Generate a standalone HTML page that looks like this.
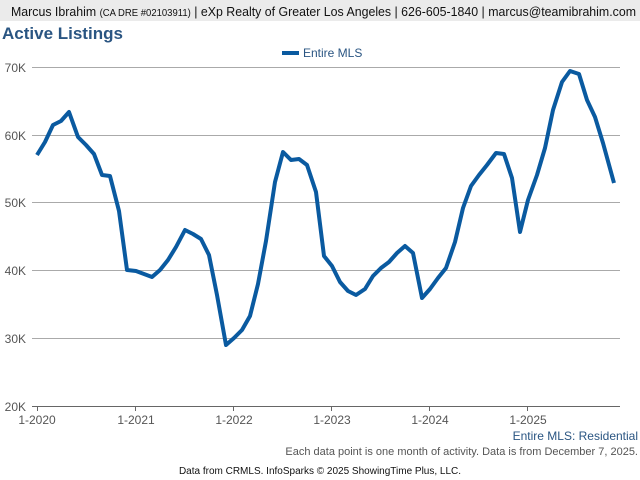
<!DOCTYPE html>
<html><head><style>
body{margin:0;width:640px;height:480px;background:#fff;font-family:"Liberation Sans",sans-serif;position:relative;overflow:hidden}
.hdr{position:absolute;left:0;top:0;width:640px;height:21px;background:#ebebeb}
.title{position:absolute;left:2px;top:24px;font-size:17px;font-weight:bold;color:#2a5582}
</style></head><body>
<div class="hdr"></div>
<div class="title">Active Listings</div>
<svg width="640" height="480" style="position:absolute;left:0;top:0" font-family="Liberation Sans, sans-serif">
<text x="11" y="16" font-size="13" fill="#111" textLength="625" lengthAdjust="spacingAndGlyphs">Marcus Ibrahim <tspan font-size="10">(CA DRE #02103911)</tspan> | eXp Realty of Greater Los Angeles | 626-605-1840 | marcus@teamibrahim.com</text>
<g stroke="#aaa" stroke-width="1">
<line x1="32" y1="67.5" x2="620" y2="67.5"/><line x1="32" y1="135.5" x2="620" y2="135.5"/>
<line x1="32" y1="202.5" x2="620" y2="202.5"/><line x1="32" y1="270.5" x2="620" y2="270.5"/>
<line x1="32" y1="338.5" x2="620" y2="338.5"/><line x1="32" y1="406.5" x2="620" y2="406.5" stroke="#666"/>
</g>
<g stroke="#666"><line x1="37.5" y1="406" x2="37.5" y2="411"/><line x1="135.5" y1="406" x2="135.5" y2="411"/><line x1="233.5" y1="406" x2="233.5" y2="411"/><line x1="331.5" y1="406" x2="331.5" y2="411"/><line x1="429.5" y1="406" x2="429.5" y2="411"/><line x1="527.5" y1="406" x2="527.5" y2="411"/></g>
<g font-size="12" fill="#555" text-anchor="end">
<text x="26" y="72">70K</text><text x="26" y="140">60K</text><text x="26" y="207">50K</text><text x="26" y="275">40K</text><text x="26" y="343">30K</text><text x="26" y="411">20K</text></g>
<g font-size="12" fill="#555" text-anchor="middle">
<text x="37" y="424">1-2020</text><text x="136" y="424">1-2021</text><text x="234" y="424">1-2022</text><text x="332" y="424">1-2023</text><text x="430" y="424">1-2024</text><text x="528" y="424">1-2025</text></g>
<rect x="282" y="51" width="17" height="4" fill="#0a5aa0"/>
<text x="303" y="57" font-size="12" fill="#2a5582">Entire MLS</text>
<polyline fill="none" stroke="#0a5aa0" stroke-width="4" stroke-linejoin="round" points="37,155 45,142 53,125 61,121 69,112 78,137 86,145 94,154 102,175 110,176 119,211 127,270 136,271 144,274 152,277 160,270 168,260 176,247 185,230 193,234 201,239 209,255 217,295 226,345 234,338 242,330 250,316 258,284 266,241 275,182 283,152 291,160 299,159 307,165 316,192 324,256 332,266 340,282 348,291 356,295 365,289 373,276 381,268 389,262 397,253 405,246 413,253 422,298 430,289 438,278 446,268 455,242 463,208 471,186 479,175 487,165 496,153 504,154 512,178 520,232 528,200 537,175 545,148 553,110 562,82 570,71 579,74 587,100 595,117 603,143 614,183"/>
<text x="638" y="440" font-size="12" fill="#2a5582" text-anchor="end">Entire MLS: Residential</text>
<text x="638" y="455" font-size="11" fill="#555" text-anchor="end">Each data point is one month of activity. Data is from December 7, 2025.</text>
<text x="320" y="474" font-size="10" fill="#111" text-anchor="middle">Data from CRMLS. InfoSparks © 2025 ShowingTime Plus, LLC.</text>
</svg>
</body></html>
